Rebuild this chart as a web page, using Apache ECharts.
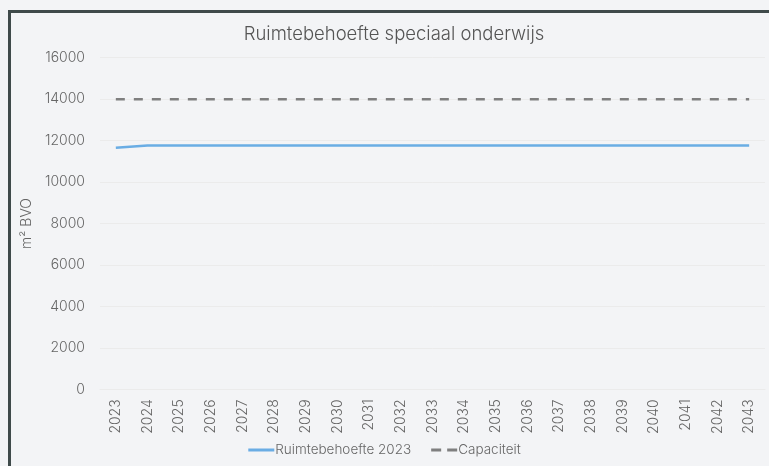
<!DOCTYPE html>
<html><head><meta charset="utf-8">
<script src="https://cdn.jsdelivr.net/npm/echarts@6/dist/echarts.min.js"></script>
<style>html,body{margin:0;padding:0;background:#f3f4f6}#c{width:769px;height:466px}</style>
</head><body><div id="c"></div>
<script>
const years = ['2023','2024','2025','2026','2027','2028','2029','2030','2031','2032','2033','2034','2035','2036','2037','2038','2039','2040','2041','2042','2043'];
const ruimtebehoefte = [11660,11760,11760,11760,11760,11760,11760,11760,11760,11760,11760,11760,11760,11760,11760,11760,11760,11760,11760,11760,11760];
const capaciteit = [14000,14000,14000,14000,14000,14000,14000,14000,14000,14000,14000,14000,14000,14000,14000,14000,14000,14000,14000,14000,14000];
const yTicks = [0,2000,4000,6000,8000,10000,12000,14000,16000];

const chart = echarts.init(document.getElementById('c'));
const font = 'Inter';
chart.setOption({
  backgroundColor: '#f3f4f6',
  animation: false,
  textStyle: {fontFamily: font},
  graphic: [{type:'rect', shape:{x:9.5,y:11.5,width:800,height:500}, style:{fill:'none', stroke:'#3f4a4a', lineWidth:3}, z:100}],
  title: {text:'Ruimtebehoefte speciaal onderwijs', left:389, textAlign:'center', top:20,
    textStyle:{fontFamily:font, fontWeight:300, fontSize:18.5, color:'#555'}},
  legend: {bottom:4, left:'center', itemGap:20, itemWidth:26, itemHeight:3,
    textStyle:{fontFamily:font, fontWeight:300, fontSize:13.5, color:'#666', padding:[0,0,0,-4]},
    data:[{name:'Ruimtebehoefte 2023', icon:'rect'}, {name:'Capaciteit', icon:'path://M0,0 H10 V3 H0 Z M16,0 H26 V3 H16 Z', itemStyle:{color:'#7f7f7f'}}]},
  grid: {left:100, right:4, top:57.7, bottom:76.7},
  xAxis: {type:'category', data:years, boundaryGap:true,
    axisLine:{show:true, lineStyle:{color:'#ebebeb'}}, axisTick:{show:false},
    axisLabel:{rotate:90, fontFamily:font, fontWeight:300, fontSize:14, color:'#666', margin:10, interval:0}},
  yAxis: {type:'value', min:0, max:16000, interval:2000, name:'m² BVO', nameLocation:'middle', nameGap:55,
    nameTextStyle:{fontFamily:font, fontWeight:300, fontSize:14, color:'#666'},
    axisLabel:{fontFamily:font, fontWeight:300, fontSize:14, color:'#666', margin:15,
      formatter: v => yTicks.includes(v) ? String(v) : ''},
    splitLine:{lineStyle:{color:'#ebebeb'}}, axisLine:{show:false}},
  series: [
    {name:'Ruimtebehoefte 2023', type:'line', data:ruimtebehoefte, showSymbol:false, symbol:'none',
      lineStyle:{color:'#6aade4', width:2.5}, itemStyle:{color:'#6aade4'}},
    {name:'Capaciteit', type:'line', data:capaciteit, showSymbol:false, symbol:'none',
      lineStyle:{color:'#7f7f7f', width:2.5, type:[9,9]}, itemStyle:{color:'#7f7f7f'}}
  ]
});
</script></body></html>
